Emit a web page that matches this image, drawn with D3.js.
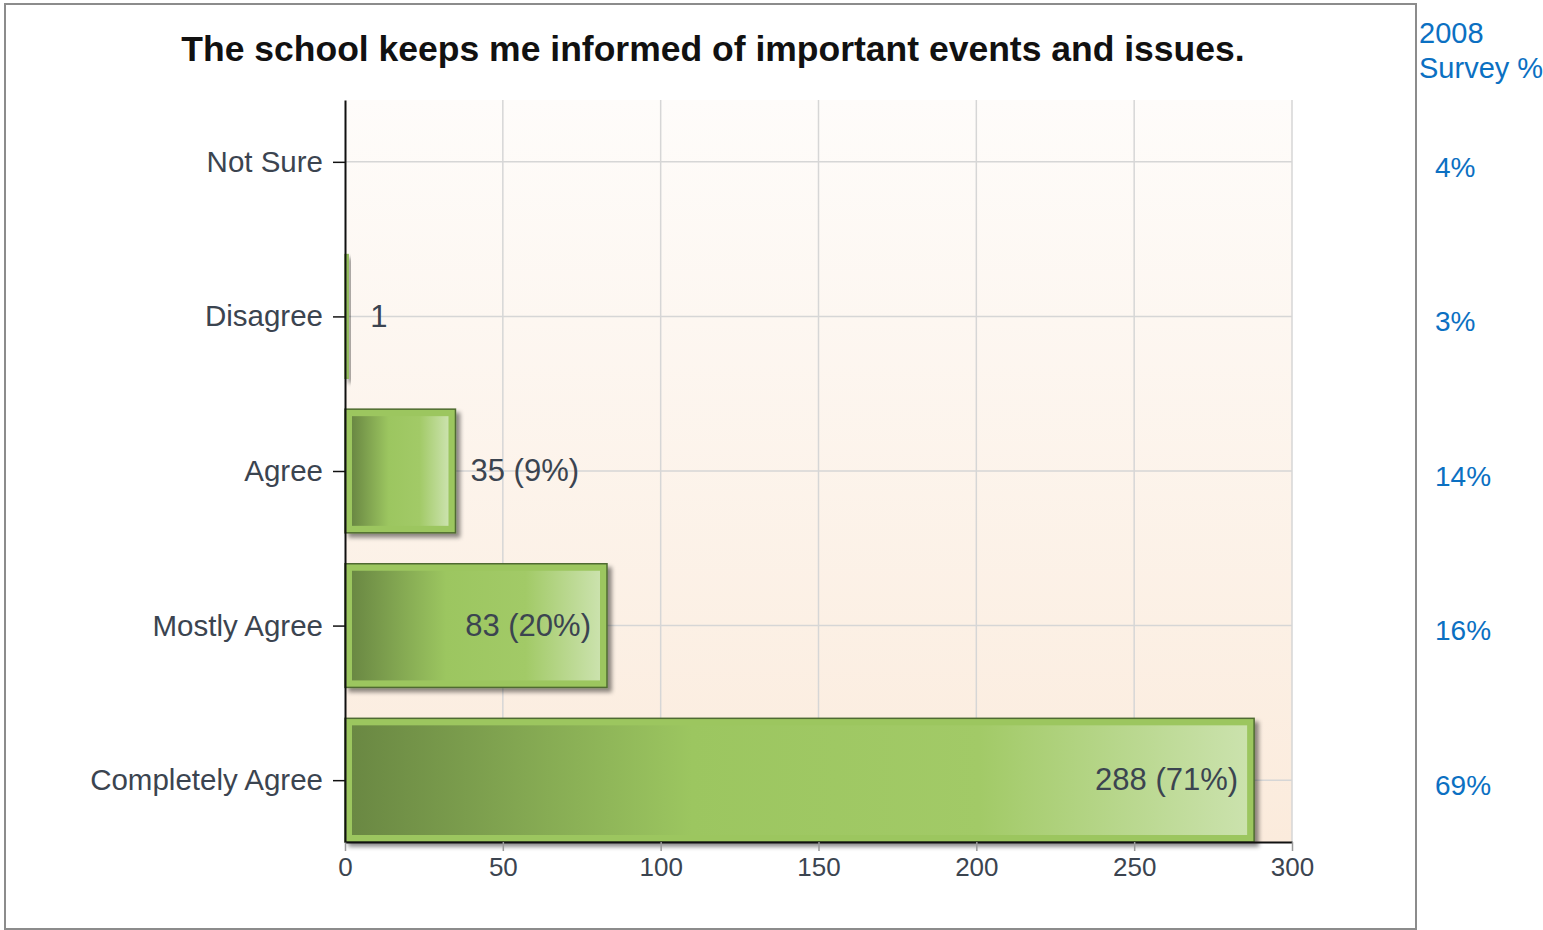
<!DOCTYPE html>
<html>
<head>
<meta charset="utf-8">
<script src="https://cdn.jsdelivr.net/npm/d3@7"></script>
<style>
  body { margin: 0; background: #fff; }
  svg { display: block; font-family: "Liberation Sans", Arial, sans-serif; }
</style>
</head>
<body>
<svg id="myGraph" width="1543" height="930"></svg>
<script>
// data
var title = "The school keeps me informed of important events and issues.";
var categories = ["Not Sure", "Disagree", "Agree", "Mostly Agree", "Completely Agree"];
var counts = [0, 1, 35, 83, 288];
var xTicks = [0, 50, 100, 150, 200, 250, 300];
var survey2008Head = ["2008", "Survey %"];
var survey2008 = ["4%", "3%", "14%", "16%", "69%"];

var svg = d3.select("#myGraph");
var margin = {left: 345, right: 1292, top: 100, bottom: 842};

var total = d3.sum(counts);
var dataset = categories.map(function(c, i){
    return {cat: c, v: counts[i], s: survey2008[i]};
});

// scales
var x = d3.scaleLinear().domain([0, 300]).range([margin.left, margin.right]);
var y = d3.scalePoint().domain(categories).range([margin.top, margin.bottom]).padding(0.4);
var barH = y.step() * 0.8;

var defs = svg.append("defs");

// plot background, white to pale peach
var bg = defs.append("linearGradient").attr("id", "bgGrad")
    .attr("x1", 0).attr("y1", 0).attr("x2", 0).attr("y2", 1);
bg.append("stop").attr("offset", "0%").attr("stop-color", "#fefcfa");
bg.append("stop").attr("offset", "100%").attr("stop-color", "#fbebdc");

// bar inner gradient
var bar = defs.append("linearGradient").attr("id", "barGrad")
    .attr("x1", 0).attr("y1", 0).attr("x2", 1).attr("y2", 0);
bar.append("stop").attr("offset", "0%").attr("stop-color", "#6a8843");
bar.append("stop").attr("offset", "38%").attr("stop-color", "#9cc660");
bar.append("stop").attr("offset", "70%").attr("stop-color", "#a2ca67");
bar.append("stop").attr("offset", "100%").attr("stop-color", "#cbe2ad");

var shadow = defs.append("filter").attr("id", "shadow")
    .attr("x", "-10%").attr("y", "-10%").attr("width", "200%").attr("height", "130%");
shadow.append("feDropShadow").attr("dx", 4).attr("dy", 4).attr("stdDeviation", 2)
    .attr("flood-color", "#000").attr("flood-opacity", 0.45);

// outer frame
svg.append("rect")
    .attr("x", 5).attr("y", 4).attr("width", 1411).attr("height", 925)
    .attr("fill", "none").attr("stroke", "#8c8c8c").attr("stroke-width", 2);

// title
svg.append("text")
    .attr("x", 713).attr("y", 61)
    .attr("text-anchor", "middle")
    .attr("font-size", 35.5).attr("font-weight", "bold")
    .attr("fill", "#111")
    .text(title);

// plot area
svg.append("rect")
    .attr("x", margin.left).attr("y", margin.top)
    .attr("width", margin.right - margin.left).attr("height", margin.bottom - margin.top)
    .attr("fill", "url(#bgGrad)");

// grid
svg.append("g").selectAll("line").data(xTicks.slice(1)).enter().append("line")
    .attr("x1", function(d){ return x(d); }).attr("x2", function(d){ return x(d); })
    .attr("y1", margin.top).attr("y2", margin.bottom)
    .attr("stroke", "#d6d6d6").attr("stroke-width", 1.5);
svg.append("g").selectAll("line").data(categories).enter().append("line")
    .attr("x1", margin.left).attr("x2", margin.right)
    .attr("y1", function(d){ return y(d); }).attr("y2", function(d){ return y(d); })
    .attr("stroke", "#d6d6d6").attr("stroke-width", 1.5);

// bars
var bars = svg.append("g").selectAll("g").data(dataset.filter(function(d){ return d.v > 0; }))
    .enter().append("g");
bars.append("rect")
    .attr("x", x(0))
    .attr("y", function(d){ return y(d.cat) - barH / 2; })
    .attr("width", function(d){ return x(d.v) - x(0); })
    .attr("height", barH)
    .attr("fill", "#9cc65e")
    .attr("stroke", function(d){ return x(d.v) - x(0) > 20 ? "#4f6b30" : "#8fb85a"; })
    .attr("stroke-width", 1.5)
    .attr("filter", "url(#shadow)");
bars.filter(function(d){ return x(d.v) - x(0) > 20; }).append("rect")
    .attr("x", x(0) + 7)
    .attr("y", function(d){ return y(d.cat) - barH / 2 + 7; })
    .attr("width", function(d){ return x(d.v) - x(0) - 14; })
    .attr("height", barH - 14)
    .attr("fill", "url(#barGrad)");

// value labels
bars.append("text")
    .each(function(d){
        var pct = Math.round(d.v / total * 100);
        var t = pct >= 1 ? d.v + " (" + pct + "%)" : String(d.v);
        var el = d3.select(this)
            .attr("y", y(d.cat))
            .attr("dy", "0.33em")
            .attr("font-size", 31)
            .attr("fill", "#3b4450")
            .text(t);
        var w = this.getComputedTextLength();
        var bw = x(d.v) - x(0);
        if (bw > w + 40) {
            el.attr("x", x(d.v) - 16).attr("text-anchor", "end");
        } else {
            el.attr("x", x(d.v) + (bw < 10 ? 22 : 15)).attr("text-anchor", "start");
        }
    });

// axes
var xAxis = svg.append("g")
    .attr("transform", "translate(0," + margin.bottom + ")")
    .call(d3.axisBottom(x).tickValues(xTicks).tickSize(9).tickSizeOuter(0));
xAxis.select(".domain").attr("stroke", "#111").attr("stroke-width", 2);
xAxis.selectAll(".tick line").attr("stroke", "#999").attr("stroke-width", 1.5);
xAxis.selectAll(".tick text")
    .attr("font-size", 26).attr("fill", "#3b4450")
    .attr("font-family", "Liberation Sans, Arial, sans-serif")
    .attr("y", 16);

var yAxis = svg.append("g")
    .attr("transform", "translate(" + margin.left + ",0)")
    .call(d3.axisLeft(y).tickSize(12).tickSizeOuter(0).tickPadding(10));
yAxis.select(".domain").attr("stroke", "#111").attr("stroke-width", 2);
yAxis.selectAll(".tick line").attr("stroke", "#111").attr("stroke-width", 1.5);
yAxis.selectAll(".tick text")
    .attr("font-size", 29.5).attr("fill", "#3b4450")
    .attr("font-family", "Liberation Sans, Arial, sans-serif");

// 2008 survey column at the right
var side = svg.append("g").attr("fill", "#0b70c2").attr("font-size", 29);
side.selectAll("text.head").data(survey2008Head).enter().append("text")
    .attr("class", "head")
    .attr("x", 1419)
    .attr("y", function(d, i){ return 43 + i * 35; })
    .text(function(d){ return d; });
side.selectAll("text.val").data(dataset).enter().append("text")
    .attr("class", "val")
    .attr("x", 1435)
    .attr("y", function(d){ return y(d.cat) + 5; })
    .attr("dy", "0.35em")
    .attr("font-size", 28)
    .text(function(d){ return d.s; });
</script>
</body>
</html>
